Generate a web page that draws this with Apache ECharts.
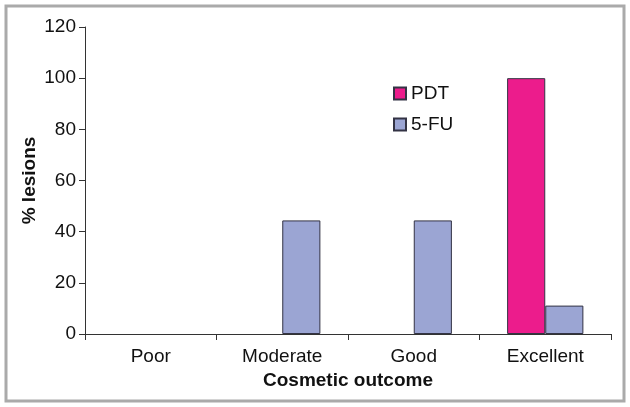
<!DOCTYPE html>
<html><head><meta charset="utf-8">
<script src="https://cdn.jsdelivr.net/npm/echarts@6/dist/echarts.min.js"></script>
<style>html,body{margin:0;padding:0;background:#fff}#c{width:630px;height:407px}</style>
</head><body><div id="c"></div>
<script>
const categories = ['Poor', 'Moderate', 'Good', 'Excellent'];
const pdtValues = [0, 0, 0, 100];
const fuValues = [0, 44.4, 44.4, 11.1];
const yTicks = [0, 20, 40, 60, 80, 100, 120];

const chart = echarts.init(document.getElementById('c'));
const font = 'Liberation Sans, Arial, sans-serif';
const hideZero = arr => arr.map(v => v === 0 ? { value: 0, itemStyle: { borderWidth: 0 } } : v);
chart.setOption({
  animation: false,
  textStyle: { fontFamily: font },
  graphic: [{
    type: 'rect', shape: { x: 6, y: 6, width: 618, height: 395 },
    style: { fill: 'none', stroke: '#aaaaaa', lineWidth: 3 }, z: 100
  }],
  grid: { left: 85, right: 19, top: 27, bottom: 73 },
  legend: {
    orient: 'vertical', left: 388, top: 79, itemWidth: 12, itemHeight: 12, itemGap: 12,
    textStyle: { fontSize: 19, color: '#111', fontFamily: font },
    data: [{ name: 'PDT', icon: 'rect' }, { name: '5-FU', icon: 'rect' }]
  },
  xAxis: {
    type: 'category', data: categories,
    name: 'Cosmetic outcome', nameLocation: 'middle', nameGap: 37,
    nameTextStyle: { fontSize: 19, fontWeight: 'bold', color: '#111', fontFamily: font },
    axisLine: { lineStyle: { color: '#333', width: 1 } },
    axisTick: { show: true, alignWithLabel: false, length: 6, inside: false, lineStyle: { color: '#333' } },
    axisLabel: { fontSize: 19, color: '#111', margin: 13 }
  },
  yAxis: {
    type: 'value', min: 0, max: 120, interval: 20,
    name: '% lesions', nameLocation: 'middle', nameGap: 46, nameMoveOverlap: false,
    nameTextStyle: { fontSize: 19, fontWeight: 'bold', color: '#111', fontFamily: font },
    axisLine: { show: true, lineStyle: { color: '#333', width: 1 } },
    axisTick: { show: true, length: 6, lineStyle: { color: '#333' } },
    axisLabel: { fontSize: 19, color: '#111', margin: 9,
      formatter: v => yTicks.includes(v) ? String(v) : '' },
    splitLine: { show: false }
  },
  series: [
    { name: 'PDT', type: 'bar', data: hideZero(pdtValues), barGap: '0%', barCategoryGap: '42%',
      itemStyle: { color: '#EC1C8C', borderColor: '#333344', borderWidth: 1 } },
    { name: '5-FU', type: 'bar', data: hideZero(fuValues), barGap: '0%', barCategoryGap: '42%',
      itemStyle: { color: '#9BA5D3', borderColor: '#333344', borderWidth: 1 } }
  ]
});
</script></body></html>
